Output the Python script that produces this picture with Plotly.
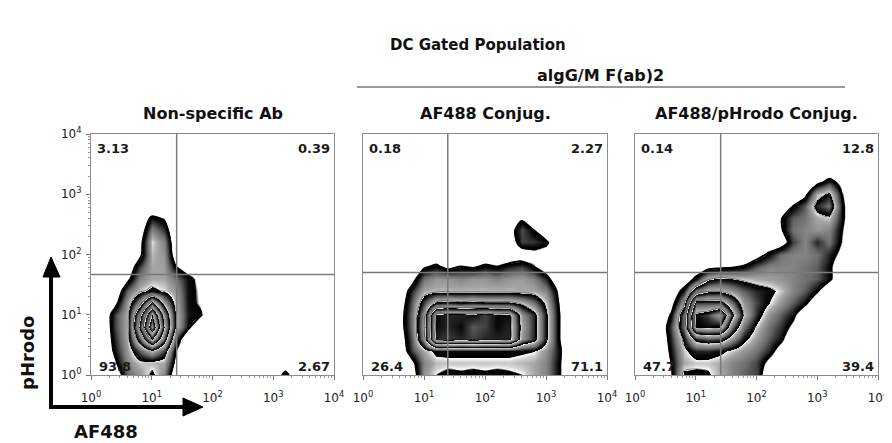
import math
import plotly.graph_objects as go

# the page body adds an 8 px margin, so the figure is drawn 8 px smaller/shifted
PAGE_OFF = 8
W, H = 892 - PAGE_OFF, 443 - PAGE_OFF

# ---------------- data ----------------
# grid in log10 units (decades) on both axes
GRID = [0.0, 0.2, 0.4, 0.6, 0.8, 1.0, 1.2, 1.4, 1.6, 1.8, 2.0,
        2.2, 2.4, 2.6, 2.8, 3.0, 3.2, 3.4, 3.6, 3.8, 4.0]
TICK_VALS = [0, 1, 2, 3, 4]
TICK_TEXT = ["10<sup>0</sup>", "10<sup>1</sup>", "10<sup>2</sup>", "10<sup>3</sup>", "10<sup>4</sup>"]

MAIN_TITLE = "DC Gated Population"
GROUP_TITLE = "algG/M F(ab)2"
PANEL_TITLES = ["Non-specific Ab", "AF488 Conjug.", "AF488/pHrodo Conjug."]
X_LABEL = "AF488"
Y_LABEL = "pHrodo"

# quadrant percentages: upper-left, upper-right, lower-left, lower-right
QUAD_1 = ["3.13", "0.39", "93.8", "2.67"]
QUAD_2 = ["0.18", "2.27", "26.4", "71.1"]
QUAD_3 = ["0.14", "12.8", "47.7", "39.4"]

# quadrant gate positions (log10 units)
GATE_X = [1.41, 1.39, 1.41]
GATE_Y = [1.67, 1.70, 1.70]

Z0 = [0] * 21

# density level (rows = pHrodo, cols = AF488)
DENSITY_1 = [
    [0, 0, 0, 0.9, 1.2, 1.6, 1.1, 0, 0, 0, 0, 0, 0, 0, 0, 0, 0.7, 0, 0, 0, 0],
    [0, 0, 0.4, 1.1, 1.4, 1.35, 1.3, 0.3, 0, 0, 0, 0, 0, 0, 0, 0, 0, 0, 0, 0, 0],
    [0, 0, 0.6, 1.2, 1.9, 2.4, 1.8, 0.45, 0, 0, 0, 0, 0, 0, 0, 0, 0, 0, 0, 0, 0],
    [0, 0, 0.7, 1.3, 2.9, 4.5, 2.9, 0.8, 0, 0, 0, 0, 0, 0, 0, 0, 0, 0, 0, 0, 0],
    [0, 0, 0.8, 1.3, 3.7, 6.2, 3.5, 1.4, 0.6, 0, 0, 0, 0, 0, 0, 0, 0, 0, 0, 0, 0],
    [0, 0, 0.8, 1.3, 3.3, 5.5, 3.2, 1.4, 0.65, 0.55, 0, 0, 0, 0, 0, 0, 0, 0, 0, 0, 0],
    [0, 0, 0.3, 1.2, 2.2, 3.7, 2.3, 1.3, 0.62, 0.42, 0, 0, 0, 0, 0, 0, 0, 0, 0, 0, 0],
    [0, 0, 0, 0.9, 1.4, 1.6, 1.45, 1.2, 0.62, 0.4, 0, 0, 0, 0, 0, 0, 0, 0, 0, 0, 0],
    [0, 0, 0, 0.3, 1.1, 1.3, 1.3, 1.0, 0.6, 0.35, 0, 0, 0, 0, 0, 0, 0, 0, 0, 0, 0],
    [0, 0, 0, 0, 0.8, 1.3, 1.25, 0.5, 0.2, 0, 0, 0, 0, 0, 0, 0, 0, 0, 0, 0, 0],
    [0, 0, 0, 0, 0.3, 1.35, 1.2, 0.1, 0, 0, 0, 0, 0, 0, 0, 0, 0, 0, 0, 0, 0],
    [0, 0, 0, 0, 0.2, 1.45, 1.1, 0, 0, 0, 0, 0, 0, 0, 0, 0, 0, 0, 0, 0, 0],
    [0, 0, 0, 0, 0, 1.1, 0.75, 0, 0, 0, 0, 0, 0, 0, 0, 0, 0, 0, 0, 0, 0],
    [0, 0, 0, 0, 0, 0.6, 0.45, 0, 0, 0, 0, 0, 0, 0, 0, 0, 0, 0, 0, 0, 0],
    Z0, Z0, Z0, Z0, Z0, Z0, Z0,
]

DENSITY_2 = [
    [0, 0, 0, 0, 0, 1.2, 1.5, 1.6, 1.55, 1.6, 1.55, 1.6, 1.55, 1.5, 1.3, 1.1, 0.6, 0, 0, 0, 0],
    [0, 0, 0, 0, 0.3, 1.1, 1.35, 1.4, 1.4, 1.4, 1.4, 1.4, 1.4, 1.35, 1.3, 1.1, 0.6, 0, 0, 0, 0],
    [0, 0, 0, 0, 0.8, 1.3, 1.6, 1.6, 1.6, 1.6, 1.6, 1.6, 1.6, 1.55, 1.5, 1.2, 0.65, 0, 0, 0, 0],
    [0, 0, 0, 0.1, 0.9, 2.2, 4.7, 4.8, 4.7, 4.8, 4.7, 4.7, 4.7, 3.2, 2.7, 1.6, 0.55, 0, 0, 0, 0],
    [0, 0, 0, 0.2, 1.0, 2.3, 4.6, 4.7, 4.6, 4.9, 4.8, 4.6, 4.7, 3.3, 2.7, 1.6, 0.55, 0, 0, 0, 0],
    [0, 0, 0, 0.2, 1.0, 2.2, 4.6, 4.7, 4.7, 4.6, 4.8, 4.6, 4.6, 3.2, 2.7, 1.6, 0.55, 0, 0, 0, 0],
    [0, 0, 0, 0.1, 0.9, 1.8, 2.6, 2.7, 2.6, 2.7, 2.6, 2.6, 2.6, 2.4, 2.0, 1.4, 0.5, 0, 0, 0, 0],
    [0, 0, 0, 0, 0.7, 1.3, 1.35, 1.35, 1.35, 1.35, 1.35, 1.35, 1.35, 1.3, 1.3, 1.1, 0.4, 0, 0, 0, 0],
    [0, 0, 0, 0, 0.2, 1.0, 1.2, 1.2, 1.1, 1.2, 1.2, 1.1, 1.2, 1.25, 1.1, 0.7, 0, 0, 0, 0, 0],
    [0, 0, 0, 0, 0, 0.4, 0.6, 0.3, 0.5, 0.4, 0.6, 0.5, 0.7, 0.8, 0.5, 0.1, 0, 0, 0, 0, 0],
    [0, 0, 0, 0, 0, 0, 0, 0, 0, 0, 0, 0, 0, 0.1, 0.3, 0.2, 0, 0, 0, 0, 0],
    [0, 0, 0, 0, 0, 0, 0, 0, 0, 0, 0, 0, 0, 0.8, 0.75, 0.6, 0, 0, 0, 0, 0],
    [0, 0, 0, 0, 0, 0, 0, 0, 0, 0, 0, 0, 0.2, 0.85, 0.5, 0, 0, 0, 0, 0, 0],
    [0, 0, 0, 0, 0, 0, 0, 0, 0, 0, 0, 0, 0, 0.4, 0, 0, 0, 0, 0, 0, 0],
    Z0, Z0, Z0, Z0, Z0, Z0, Z0,
]

DENSITY_3 = [
    [0, 0, 0, 0.4, 1.6, 1.6, 1.55, 1.3, 1.1, 0.9, 0.8, 0, 0, 0, 0, 0, 0, 0, 0, 0, 0],
    [0, 0, 0, 0.5, 1.3, 1.4, 1.4, 1.3, 1.1, 1.0, 0.8, 0.3, 0, 0, 0, 0, 0, 0, 0, 0, 0],
    [0, 0, 0, 0.6, 1.4, 1.7, 1.7, 1.6, 1.4, 1.2, 1.0, 0.7, 0.2, 0, 0, 0, 0, 0, 0, 0, 0],
    [0, 0, 0, 0.7, 1.6, 2.7, 2.9, 2.8, 2.2, 1.6, 1.2, 0.9, 0.6, 0, 0, 0, 0, 0, 0, 0, 0],
    [0, 0, 0, 0.8, 2.0, 4.5, 4.6, 4.5, 3.0, 2.0, 1.4, 1.0, 0.75, 0.35, 0, 0, 0, 0, 0, 0, 0],
    [0, 0, 0, 0.55, 2.0, 4.6, 4.8, 5.3, 3.7, 2.4, 1.7, 1.2, 0.9, 0.6, 0, 0, 0, 0, 0, 0, 0],
    [0, 0, 0, 0.2, 1.3, 3.8, 3.8, 3.8, 3.0, 2.2, 1.8, 1.5, 1.2, 0.9, 0.6, 0, 0, 0, 0, 0, 0],
    [0, 0, 0, 0, 0.65, 2.0, 2.4, 2.4, 2.2, 1.9, 1.7, 1.6, 1.4, 1.1, 0.9, 0.55, 0, 0, 0, 0, 0],
    [0, 0, 0, 0, 0, 0.6, 1.4, 1.6, 1.5, 1.4, 1.3, 1.25, 1.2, 1.1, 1.0, 0.9, 0.6, 0, 0, 0, 0],
    [0, 0, 0, 0, 0, 0, 0.2, 0.3, 0.4, 0.55, 0.9, 1.1, 1.1, 1.1, 1.0, 0.9, 0.6, 0, 0, 0, 0],
    [0, 0, 0, 0, 0, 0, 0, 0, 0, 0, 0.2, 0.6, 1.0, 1.1, 1.1, 1.0, 0.7, 0.3, 0, 0, 0],
    [0, 0, 0, 0, 0, 0, 0, 0, 0, 0, 0, 0, 0.1, 0.8, 1.1, 0.7, 1.0, 0.45, 0, 0, 0],
    [0, 0, 0, 0, 0, 0, 0, 0, 0, 0, 0, 0, 0.4, 1.0, 1.1, 1.2, 1.1, 0.5, 0, 0, 0],
    [0, 0, 0, 0, 0, 0, 0, 0, 0, 0, 0, 0, 0.45, 0.9, 1.0, 1.3, 1.4, 0.6, 0, 0, 0],
    [0, 0, 0, 0, 0, 0, 0, 0, 0, 0, 0, 0, 0, 0.5, 0.9, 1.7, 2.0, 0.6, 0, 0, 0],
    [0, 0, 0, 0, 0, 0, 0, 0, 0, 0, 0, 0, 0, 0, 0.3, 1.3, 1.6, 0.5, 0, 0, 0],
    [0, 0, 0, 0, 0, 0, 0, 0, 0, 0, 0, 0, 0, 0, 0, 0.3, 0.7, 0.3, 0, 0, 0],
    Z0, Z0, Z0, Z0,
]

DENSITIES = [DENSITY_1, DENSITY_2, DENSITY_3]
QUADS = [QUAD_1, QUAD_2, QUAD_3]

# ---------------- style / layout ----------------
FONT = "DejaVu Sans"
PANEL_PX = [(91, 334), (363, 607), (635, 878)]   # positions in window pixels
TOP_PX, BOT_PX = 134, 375


def fx(px):
    return (px - PAGE_OFF) / W


def fy(py):
    return 1 - (py - PAGE_OFF) / H


# zebra colour scale: each band runs black -> grey -> thin white, then jumps back to black
ZMAX = 7.5
stops = [(0.0, "#ffffff"), (0.44, "#ffffff")]
for k in range(7):
    s = k + 0.5
    stops += [(s, "#000000"), (s + 0.1, "#080808"), (s + 0.45, "#6a6a6a"),
              (s + 0.8, "#a6a6a6"), (s + 0.93, "#d4d4d4"), (s + 0.985, "#ffffff")]
stops.append((ZMAX, "#ffffff"))
ZEBRA = [[v / ZMAX, c] for v, c in stops]

fig = go.Figure()
annotations = []
shapes = []
layout = {}

minor_vals = [d + math.log10(m) for d in range(4) for m in range(2, 10)]

for n in range(3):
    sfx = "" if n == 0 else str(n + 1)
    xa, ya = "x" + sfx, "y" + sfx
    fig.add_trace(go.Contour(
        x=GRID, y=GRID, z=DENSITIES[n], xaxis=xa, yaxis=ya,
        zmin=0, zmax=ZMAX, colorscale=ZEBRA, showscale=False,
        contours=dict(coloring="heatmap", showlines=False, start=0.5, end=6.5, size=1),
        hoverinfo="skip",
    ))
    # crisp black outer edge of the population
    fig.add_trace(go.Contour(
        x=GRID, y=GRID, z=DENSITIES[n], xaxis=xa, yaxis=ya,
        showscale=False, autocontour=False,
        contours=dict(coloring="none", showlines=True, start=0.5, end=0.5, size=1),
        line=dict(color="#000000", width=2, smoothing=0.6),
        hoverinfo="skip",
    ))
    x0, x1 = PANEL_PX[n]
    layout["xaxis" + sfx] = dict(
        domain=[fx(x0), fx(x1)], range=[0, 4], anchor=ya, automargin=False,
        tickmode="array", tickvals=TICK_VALS, ticktext=TICK_TEXT,
        ticks="outside", ticklen=4, tickwidth=1, tickcolor="#777",
        minor=dict(tickmode="array", tickvals=minor_vals, ticks="outside", ticklen=2, tickcolor="#999"),
        showline=True, linecolor="#8c8c8c", linewidth=1, mirror=True,
        showgrid=False, zeroline=False, ticklabelstandoff=8,
        tickfont=dict(family=FONT, size=12, color="#222"),
    )
    yd = dict(
        domain=[fy(BOT_PX), fy(TOP_PX)], range=[0, 4], anchor=xa, automargin=False,
        showline=True, linecolor="#8c8c8c", linewidth=1, mirror=True,
        showgrid=False, zeroline=False,
    )
    if n == 0:
        yd.update(tickmode="array", tickvals=TICK_VALS, ticktext=TICK_TEXT,
                  ticks="outside", ticklen=4, tickcolor="#777",
                  minor=dict(tickmode="array", tickvals=minor_vals, ticks="outside", ticklen=2, tickcolor="#999"),
                  ticklabelstandoff=2,
                  tickfont=dict(family=FONT, size=12, color="#222"))
    else:
        yd.update(showticklabels=False, ticks="")
    layout["yaxis" + sfx] = yd

    # quadrant gates
    shapes.append(dict(type="line", xref=xa, yref=ya, x0=GATE_X[n], x1=GATE_X[n], y0=0, y1=4,
                       line=dict(color="#7a7a7a", width=1.5), layer="above"))
    shapes.append(dict(type="line", xref=xa, yref=ya, x0=0, x1=4, y0=GATE_Y[n], y1=GATE_Y[n],
                       line=dict(color="#7a7a7a", width=1.5), layer="above"))

    # quadrant numbers
    q = QUADS[n]
    qfont = dict(family=FONT, size=13, color="#1a1a1a")
    for txt, xx, yy, xan in [(q[0], 0.015, 0.94, "left"), (q[1], 0.99, 0.94, "right"),
                             (q[2], 0.025, 0.035, "left"), (q[3], 0.99, 0.035, "right")]:
        annotations.append(dict(text="<b>" + txt + "</b>", xref=xa + " domain", yref=ya + " domain",
                                x=xx, y=yy, xanchor=xan, yanchor="middle", showarrow=False, font=qfont))

    # panel title
    annotations.append(dict(text="<b>" + PANEL_TITLES[n] + "</b>", xref="paper", yref="paper",
                            x=fx((x0 + x1) / 2), y=fy(113), xanchor="center", yanchor="middle",
                            showarrow=False, font=dict(family=FONT, size=16, color="#111")))

# headers
annotations.append(dict(text="<b>" + MAIN_TITLE + "</b>", xref="paper", yref="paper",
                        x=fx(478), y=fy(45), xanchor="center", yanchor="middle", showarrow=False,
                        font=dict(family=FONT, size=15, color="#111")))
annotations.append(dict(text="<b>" + GROUP_TITLE + "</b>", xref="paper", yref="paper",
                        x=fx(600), y=fy(75), xanchor="center", yanchor="middle", showarrow=False,
                        font=dict(family=FONT, size=16, color="#111")))
shapes.append(dict(type="line", xref="paper", yref="paper", x0=fx(357), x1=fx(845), y0=fy(87), y1=fy(87),
                   line=dict(color="#999999", width=2)))

# axis-name arrows
shapes.append(dict(type="line", xref="paper", yref="paper", x0=fx(51), x1=fx(51), y0=fy(409), y1=fy(272),
                   line=dict(color="#000", width=4)))
shapes.append(dict(type="line", xref="paper", yref="paper", x0=fx(49), x1=fx(186), y0=fy(407), y1=fy(407),
                   line=dict(color="#000", width=4)))
shapes.append(dict(type="path", xref="paper", yref="paper",
                   path=f"M {fx(51)} {fy(257)} L {fx(43)} {fy(277)} L {fx(60)} {fy(277)} Z",
                   fillcolor="#000", line=dict(color="#000", width=1)))
shapes.append(dict(type="path", xref="paper", yref="paper",
                   path=f"M {fx(203)} {fy(407)} L {fx(183)} {fy(398)} L {fx(183)} {fy(416)} Z",
                   fillcolor="#000", line=dict(color="#000", width=1)))
annotations.append(dict(text="<b>" + X_LABEL + "</b>", xref="paper", yref="paper",
                        x=fx(106), y=fy(431), xanchor="center", yanchor="middle", showarrow=False,
                        font=dict(family=FONT, size=18, color="#111")))
annotations.append(dict(text="<b>" + Y_LABEL + "</b>", xref="paper", yref="paper",
                        x=fx(27), y=fy(353), xanchor="center", yanchor="middle", showarrow=False,
                        textangle=-90, font=dict(family=FONT, size=18, color="#111")))

fig.update_layout(
    width=W, height=H, autosize=False,
    margin=dict(l=0, r=0, t=0, b=0, pad=0),
    paper_bgcolor="white", plot_bgcolor="white",
    showlegend=False,
    annotations=annotations, shapes=shapes,
    **layout,
)

fig.write_html("out.html")
